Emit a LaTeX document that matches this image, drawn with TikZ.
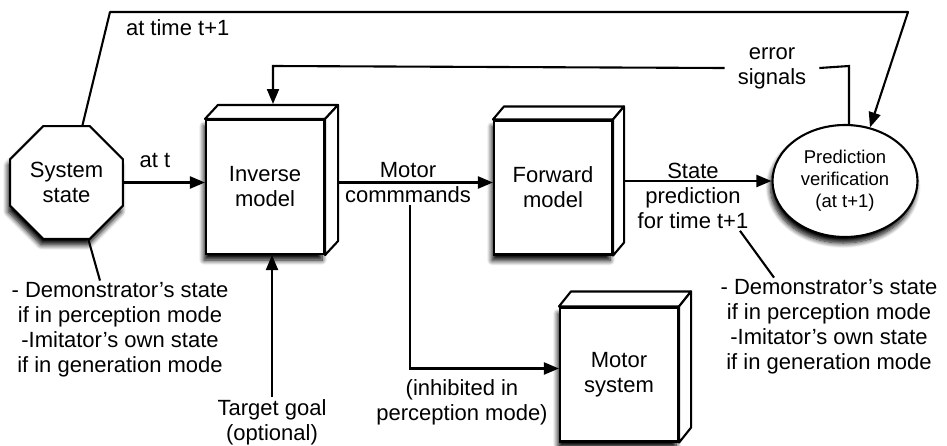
\documentclass[tikz,border=0pt]{standalone}
\usepackage{fontspec}
\setmainfont{Liberation Sans}
\usetikzlibrary{arrows.meta,shapes.geometric,shadows.blur}

\begin{document}
\begin{tikzpicture}[x=1pt,y=-1pt,
    line width=2.1pt,
    every node/.style={font=\fontsize{22}{25}\selectfont, align=center},
    softshadow/.style={blur shadow={shadow xshift=-2pt, shadow yshift=-6pt,
        shadow blur radius=5pt, shadow blur steps=8, shadow opacity=100}},
    arr/.style={-{Triangle[length=15pt,width=12pt]}},
    cubeface/.style={draw, fill=white, minimum width=118pt, minimum height=134pt,
        inner sep=0pt, softshadow},
    lbl/.style={inner sep=1pt}]
  \useasboundingbox (0,0) rectangle (947,445);

  % blocks
  \node[draw, fill=white, regular polygon, regular polygon sides=8,
        minimum size=122pt, inner sep=0pt, softshadow] (sys) at (66.5,182.5) {System\\state};
  \node[cubeface] (inv) at (265,187) {Inverse\\model};
  \node[cubeface] (fwd) at (553,187.5) {Forward\\model};
  \node[cubeface] (mot) at (619,374.5) {Motor\\system};
  \node[draw, fill=white, ellipse, minimum width=145pt, minimum height=112pt,
        inner sep=0pt, softshadow,
        font=\fontsize{18.5}{22}\selectfont] (pv) at (845,181) {Prediction\\verification\\(at t+1)};

  % top and side faces of the three boxes
  \foreach \n/\dx/\dy in {inv/13/14, fwd/11/13, mot/12/15}{
    \draw[fill=white, line join=round]
      (\n.north west) -- (\n.north east) -- ++(\dx,-\dy)
      -- ([xshift=\dx pt, yshift=\dy pt]\n.north west) -- cycle;
    \draw[fill=white, line join=round]
      (\n.north east) -- ++(\dx,-\dy)
      -- ([xshift=\dx pt, yshift=\dy pt]\n.south east) -- (\n.south east) -- cycle;
  }

  % labels
  \node[lbl] (att) at (155,160) {at t};
  \node[lbl, anchor=west] (att1) at (124,28) {at time t+1};
  \node[lbl, fill=white, inner xsep=12pt] (err) at (772,68) {error\\signals};
  \node[lbl] (mc) at (408,183) {Motor\\commmands};
  \node[lbl] (inh) at (462,402) {(inhibited in\\perception mode)};
  \node[lbl] (tg) at (272,422) {Target goal\\(optional)};
  \node[lbl] (sp) at (693,196) {State\\prediction\\for time t+1};
  \node[lbl] (ds1) at (120,330) {- Demonstrator's state\\if in perception mode\\-Imitator's own state\\if in generation mode};
  \node[lbl] (ds2) at (829,327) {- Demonstrator's state\\if in perception mode\\-Imitator's own state\\if in generation mode};

  % helper points
  \coordinate (tl) at (110,12);
  \coordinate (tr) at (908,12);
  \coordinate (errtop) at (849,66);
  \coordinate (errleft) at (273,66);
  \coordinate (invR) at ([xshift=13pt]inv.east);
  \coordinate (fwdR) at ([xshift=11pt]fwd.east);

  % connectors
  \draw[arr] (sys.east) -- (sys.east -| inv.west);
  \draw[arr, line join=round] ([xshift=16pt]sys.north) -- (tl) -- (tr) -- (pv.65);
  \draw ([xshift=4pt]pv.north) -- (errtop) -- (err.east);
  \draw[arr] (err.west) -- (errleft) -- (errleft |- 0,104);
  \draw[arr] (invR |- sys.east) -- (fwd.west |- sys.east);
  \draw[arr] (mc.south -| 410,0) |- ([yshift=6pt]mot.west);
  \draw[arr] (tg.north) -- (tg.north |- inv.south);
  \draw[arr] (fwdR |- pv.west) -- (pv.west);
  \draw ([xshift=22pt]sys.south) -- ([xshift=-20pt]ds1.north);
  \draw ([xshift=47pt]sp.south) -- ([xshift=-55pt]ds2.north);
\end{tikzpicture}
\end{document}
